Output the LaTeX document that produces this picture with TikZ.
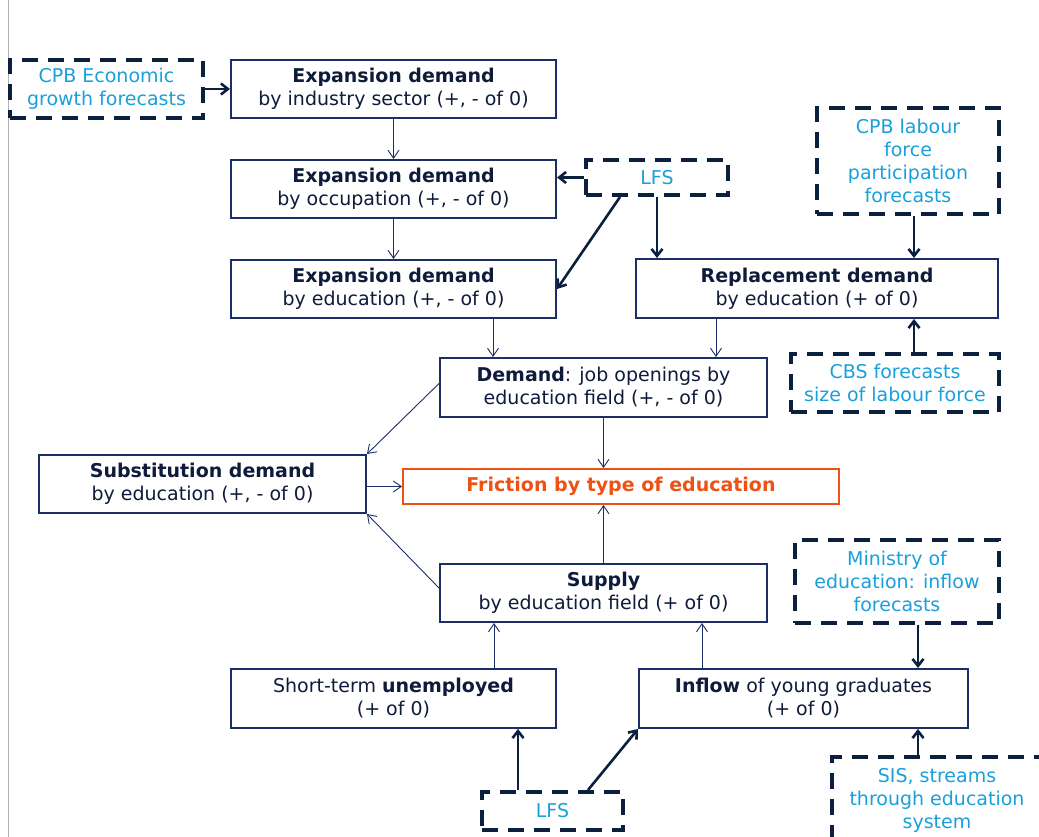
\documentclass[tikz,border=0pt]{standalone}
\usepackage{fontspec}
\setmainfont{DejaVu Sans}
\usetikzlibrary{arrows.meta}
\definecolor{navy}{HTML}{1B2F66}
\definecolor{ink}{HTML}{0E1B3A}
\definecolor{dnavy}{HTML}{0B1F3F}
\definecolor{cyan}{HTML}{1A9FDB}
\definecolor{orng}{HTML}{EE5114}
\tikzset{
  every node/.style={font=\fontsize{19}{23}\selectfont, text=ink, align=center, inner sep=0pt},
  box/.style={draw=navy, line width=2pt, fill=white},
  src/.style={draw=dnavy, line width=4pt, dash pattern=on 16pt off 10pt, text=cyan},
  fric/.style={draw=orng, line width=2pt, text=orng},
  thin/.style={draw=navy, line width=0.9pt, -{Straight Barb[length=8pt,width=11pt]}},
  thick/.style={draw=dnavy, line width=2.6pt, -{Straight Barb[length=7pt,width=11pt,line width=2.6pt]}},
}
\begin{document}
\begin{tikzpicture}[x=1pt,y=-1pt]
\useasboundingbox (0,0) rectangle (1039,837);
\draw[gray!60, line width=0.8pt] (8,0) -- (8,837);
% boxes
\node[src, minimum width=193pt, minimum height=58pt] (cpbe) at (106.5,89) {CPB Economic\\growth forecasts};
\node[box, minimum width=325pt, minimum height=58pt] (ind) at (393.5,89) {\textbf{Expansion demand}\\by industry sector (+, - of 0)};
\node[box, minimum width=325pt, minimum height=58pt] (occ) at (393.5,189) {\textbf{Expansion demand}\\by occupation (+, - of 0)};
\node[src, minimum width=142pt, minimum height=35pt] (lfs1) at (657,177.5) {LFS};
\node[src, minimum width=182pt, minimum height=106pt] (cpbl) at (908,161) {CPB labour\\force\\participation\\forecasts};
\node[box, minimum width=325pt, minimum height=58pt] (edu) at (393.5,289) {\textbf{Expansion demand}\\by education (+, - of 0)};
\node[box, minimum width=362pt, minimum height=59pt] (rep) at (817,288.5) {\textbf{Replacement demand}\\by education (+ of 0)};
\node[src, minimum width=208pt, minimum height=58pt] (cbs) at (895,383) {CBS forecasts\\size of labour force};
\node[box, minimum width=327pt, minimum height=59pt] (dem) at (603.5,387.5) {\textbf{Demand}: job openings by\\education field (+, - of 0)};
\node[box, minimum width=327pt, minimum height=58pt] (sub) at (202.5,484) {\textbf{Substitution demand}\\by education (+, - of 0)};
\node[fric, minimum width=436pt, minimum height=35pt] (fri) at (621,486.5) {\textbf{Friction by type of education}};
\node[box, minimum width=327pt, minimum height=58pt] (sup) at (603.5,593) {\textbf{Supply}\\by education field (+ of 0)};
\node[src, minimum width=204pt, minimum height=83pt] (min) at (897,581.5) {Ministry of\\education: inflow\\forecasts};
\node[box, minimum width=325pt, minimum height=59pt] (stu) at (393.5,698.5) {Short-term \textbf{unemployed}\\(+ of 0)};
\node[box, minimum width=329pt, minimum height=59pt] (inf) at (803.5,698.5) {\textbf{Inflow} of young graduates\\(+ of 0)};
\node[src, minimum width=141pt, minimum height=38pt] (lfs2) at (552.5,811) {LFS};
\node[src, minimum width=220pt, minimum height=90pt] (sis) at (942,802) {};
\node[text=cyan] (sist) at (937,800) {SIS, streams\\through education\\system};
% thick arrows
\draw[thick] (cpbe.east) -- (ind.west);
\draw[thick] (lfs1.west) -- (occ.east |- lfs1.west);
\draw[thick] (lfs1.south west) ++(36,0) coordinate (l1a) -- (edu.east);
\draw[thick] (lfs1.south) -- (lfs1.south |- rep.north);
\draw[thick] (cpbl.south) ++(6,0) coordinate (c1) -- (c1 |- rep.north);
\draw[thick] (cbs.north) ++(19,0) coordinate (c2) -- (c2 |- rep.south);
\draw[thick] (min.south) ++(21,0) coordinate (c3) -- (c3 |- inf.north);
\draw[thick] (sis.north) ++(-24,0) coordinate (c4) -- (c4 |- inf.south);
\draw[thick] (lfs2.north) ++(-34.5,0) coordinate (c5) -- (c5 |- stu.south);
\draw[thick] (lfs2.north) ++(35.5,0) coordinate (c6) -- (inf.south west);
% thin arrows
\draw[thin] (ind) -- (occ);
\draw[thin] (occ) -- (edu);
\draw[thin] (edu.south) ++(99.5,0) coordinate (t1) -- (t1 |- dem.north);
\draw[thin] (rep.south) ++(-101,0) coordinate (t2) -- (t2 |- dem.north);
\draw[thin] (dem.west) ++(0,-4) coordinate (t3) -- (sub.north east);
\draw[thin] (dem) -- (dem |- fri.north);
\draw[thin] (sub.east |- fri.west) -- (fri.west);
\draw[thin] (sup.west) ++(0,-5) coordinate (t4) -- (sub.south east);
\draw[thin] (sup) -- (sup |- fri.south);
\draw[thin] (stu.north) ++(100.5,0) coordinate (t5) -- (t5 |- sup.south);
\draw[thin] (inf.north) ++(-101.5,0) coordinate (t6) -- (t6 |- sup.south);
\end{tikzpicture}
\end{document}
